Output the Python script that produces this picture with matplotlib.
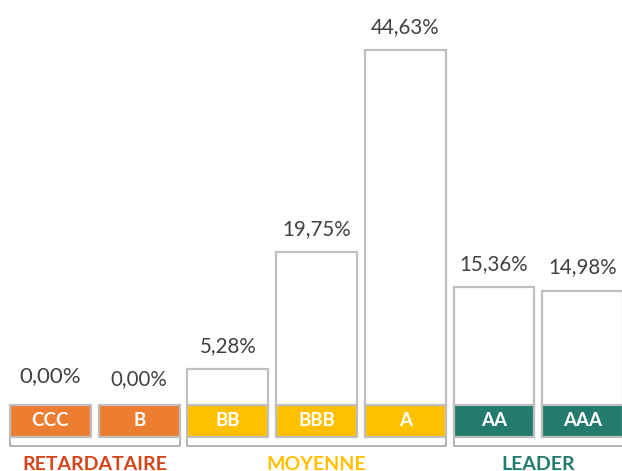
import matplotlib.pyplot as plt
from matplotlib.patches import Rectangle

# données
notes = ['CCC', 'B', 'BB', 'BBB', 'A', 'AA', 'AAA']
valeurs = [0.00, 0.00, 5.28, 19.75, 44.63, 15.36, 14.98]
etiquettes = ['0,00%', '0,00%', '5,28%', '19,75%', '44,63%', '15,36%', '14,98%']
groupes = ['RETARDATAIRE', 'MOYENNE', 'LEADER']
groupe_idx = [(0, 1), (2, 4), (5, 6)]

couleurs_titre = ['#D2461A', '#FFC000', '#237B6E']
couleurs_barres = ['#ED7D31', '#ED7D31', '#FFC000', '#FFC000', '#FFC000', '#237B6E', '#237B6E']

plt.rcParams['font.family'] = ['Lato', 'DejaVu Sans']

fig = plt.figure(figsize=(6.22, 4.71), dpi=100)
ax = fig.add_axes([0, 0, 1, 1])

pas = 88.7      # px entre barres
echelle = 8.107  # px par %
base_px = 412
ax.set_xlim(-50.5 / pas, (622 - 50.5) / pas)
ax.set_ylim((base_px - 471) / echelle, base_px / echelle)
ax.axis('off')

largeur = 0.913
x = list(range(len(notes)))

ax.bar(x, valeurs, width=largeur, color='white', edgecolor='#BFBFBF', linewidth=1.6, zorder=1)

# boites des notes
haut_boite = (base_px - 405) / echelle
bas_boite = (base_px - 437) / echelle
for i, n in enumerate(notes):
    ax.add_patch(Rectangle((i - largeur / 2, bas_boite), largeur, haut_boite - bas_boite,
                           facecolor=couleurs_barres[i], edgecolor='#BFBFBF', linewidth=1.6, zorder=3))
    ax.text(i, (haut_boite + bas_boite) / 2, n, ha='center', va='center', color='white',
            fontsize=13.5, fontweight='bold', zorder=4)

# étiquettes de valeurs
decal = 23 / echelle
for i, v in enumerate(valeurs):
    haut = v if v > 0 else haut_boite + 3 / echelle
    taille = 16 if i == 0 else 14.8
    if i == 0:
        haut += 3 / echelle
    ax.text(i, haut + decal, etiquettes[i], ha='center', va='center', color='#404040', fontsize=taille)

# accolades et noms de groupes
y_h = (base_px - 446) / echelle
y_b = (base_px - 439) / echelle
for g, (a, b) in enumerate(groupe_idx):
    x0 = a - largeur / 2
    x1 = b + largeur / 2
    ax.plot([x0, x0, x1, x1], [y_b, y_h, y_h, y_b], color='#A6A6A6', linewidth=1.2, clip_on=False)
    ax.text((x0 + x1) / 2, (base_px - 464) / echelle, groupes[g], ha='center', va='center',
            color=couleurs_titre[g], fontsize=14, fontweight='bold')

fig.savefig('out.png', dpi=100)
plt.close()
